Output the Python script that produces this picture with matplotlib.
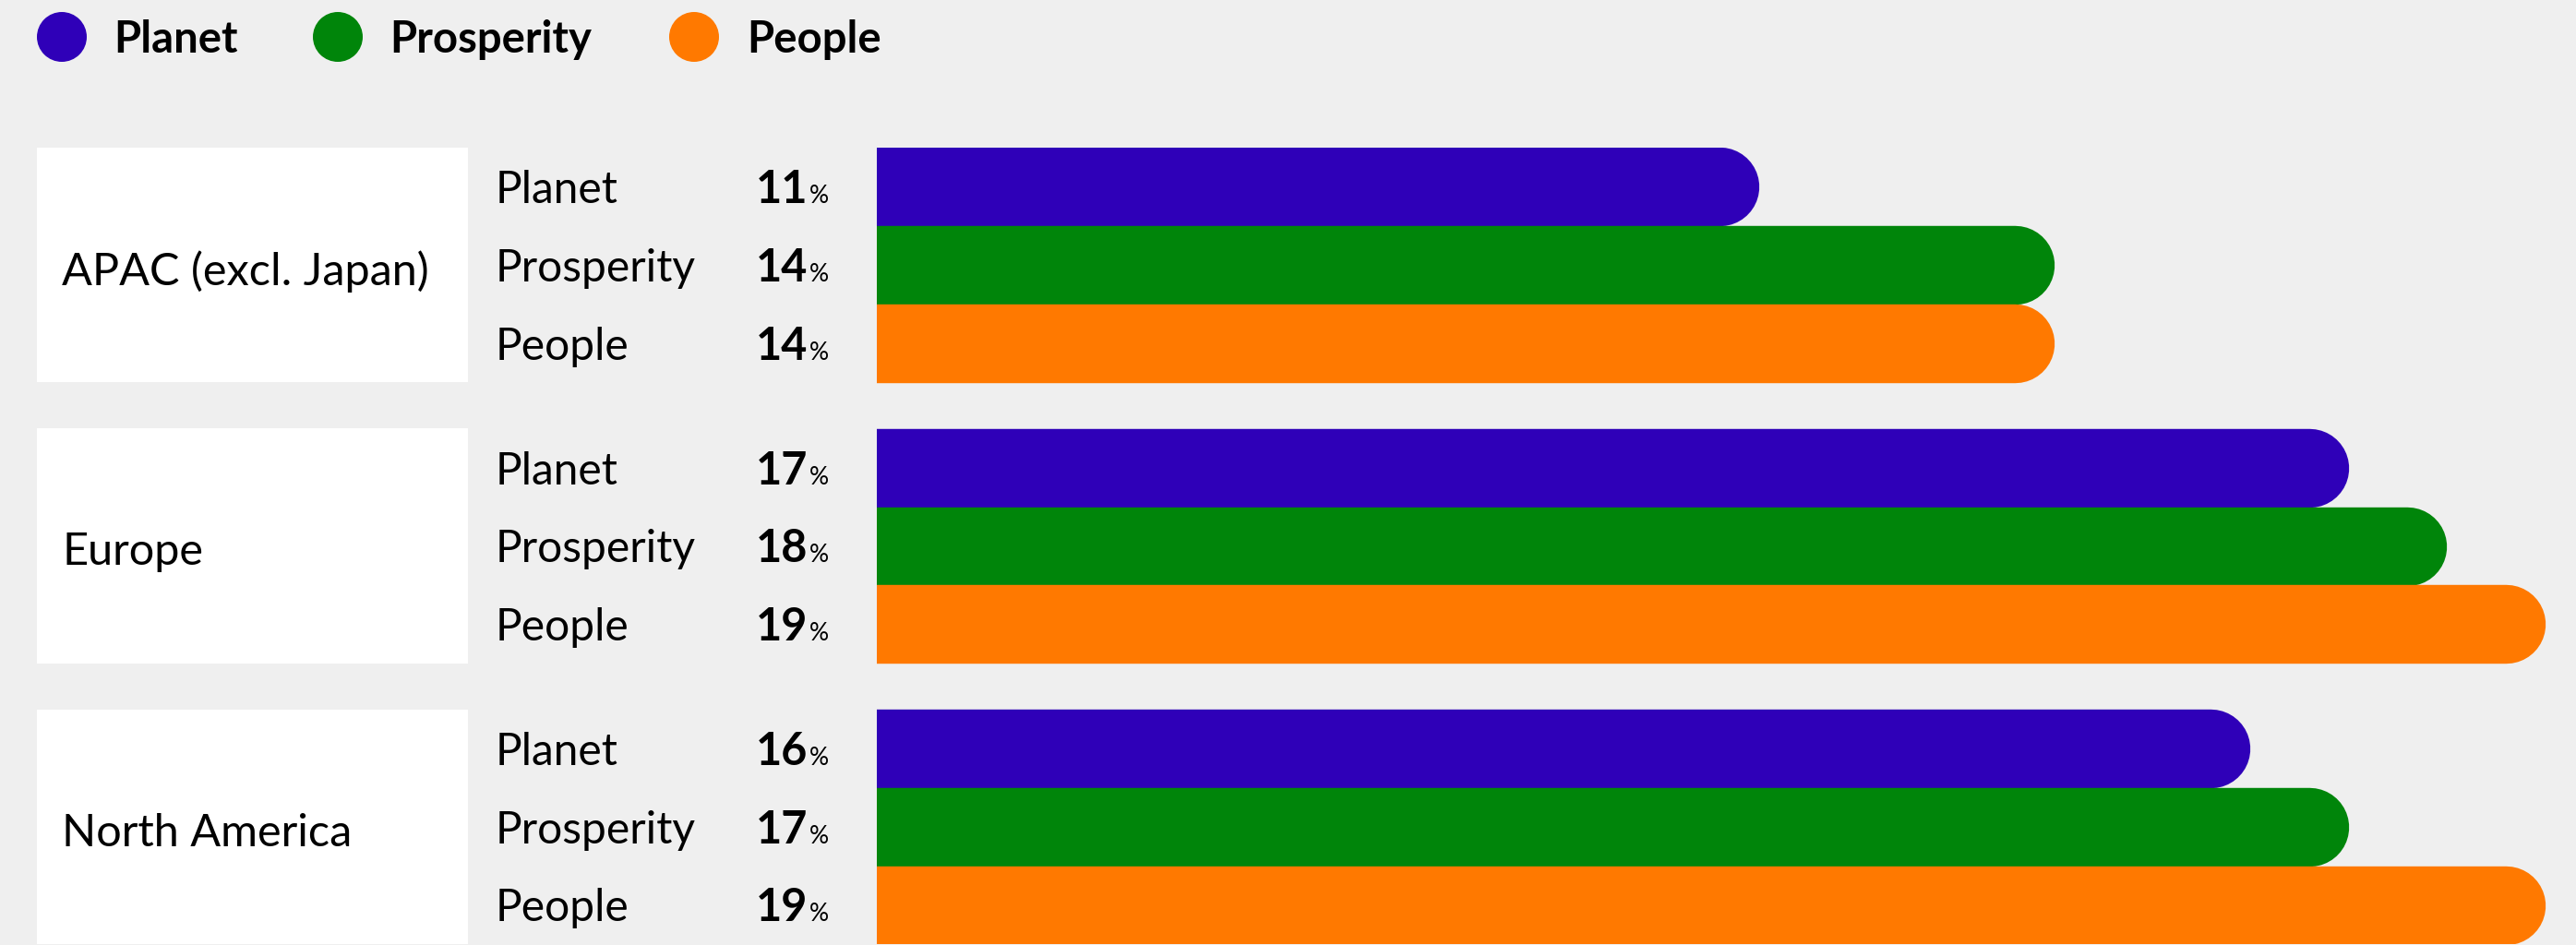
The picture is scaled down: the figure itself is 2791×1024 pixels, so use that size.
import matplotlib
matplotlib.use("Agg")
import matplotlib.pyplot as plt
from matplotlib.patches import Rectangle, Circle
from matplotlib.transforms import blended_transform_factory

# ---- data ----
regions = ["APAC (excl. Japan)", "Europe", "North America"]
pillars = ["Planet", "Prosperity", "People"]
colors = ["#2f00b8", "#00850a", "#ff7900"]
planet = [11, 17, 16]
prosperity = [14, 18, 17]
people = [14, 19, 19]

# ---- figure ----
W, H = 2791, 1024
bg = "#efefef"
plt.rcParams["font.family"] = ["Lato", "DejaVu Sans"]

fig = plt.figure(figsize=(W / 100, H / 100), dpi=100, facecolor=bg)
ax = fig.add_axes([950 / W, 1 / H, (W - 950) / W, 863 / H])
ax.set_facecolor("none")
ax.axis("off")

gap = 0.595
pitch = 3 + gap
bar_lw = 61.5  # points, ~ one bar slot

for g, region in enumerate(regions):
    vals = [planet[g], prosperity[g], people[g]]
    for i, (v, c) in enumerate(zip(vals, colors)):
        y = g * pitch + i
        ax.plot([0, v], [y, y], color=c, lw=bar_lw, solid_capstyle="round")

ax.set_xlim(2.415, 19.718)
ax.set_ylim(2 * pitch + 2.5, -0.5)

# ---- left labels (x in figure pixels, y in bar units) ----
tr = blended_transform_factory(fig.transFigure, ax.transData)
fx = lambda p: p / W

for g, region in enumerate(regions):
    vals = [planet[g], prosperity[g], people[g]]
    ax.add_patch(Rectangle((fx(40), g * pitch - 0.5), fx(467), 3,
                           transform=tr, facecolor="white", edgecolor="none",
                           clip_on=False))
    ax.text(fx(67), g * pitch + 1.08, region, transform=tr, fontsize=35,
            va="center", ha="left", color="black")
    for i, (name, v) in enumerate(zip(pillars, vals)):
        y = g * pitch + i + 0.21
        ax.text(fx(537), y, name, transform=tr, fontsize=34.5,
                va="baseline", ha="left", color="black")
        ax.text(fx(875), y, f"{v}", transform=tr, fontsize=35,
                fontweight="bold", va="baseline", ha="right", color="black")
        ax.text(fx(877), y, "%", transform=tr, fontsize=19,
                va="baseline", ha="left", color="black")

# ---- legend ----
leg_circles = [67, 366, 752]
leg_text = [123, 422, 809]
for name, c, cx, tx in zip(pillars, colors, leg_circles, leg_text):
    fig.patches.append(Circle((cx / 100, (H - 40) / 100), 0.27,
                              transform=fig.dpi_scale_trans, facecolor=c,
                              edgecolor="none"))
    fig.text(tx / W, 1 - 57 / H, name, fontsize=34, fontweight="bold",
             va="baseline", ha="left", color="black")

plt.savefig("out.png", dpi=100, facecolor=bg)
